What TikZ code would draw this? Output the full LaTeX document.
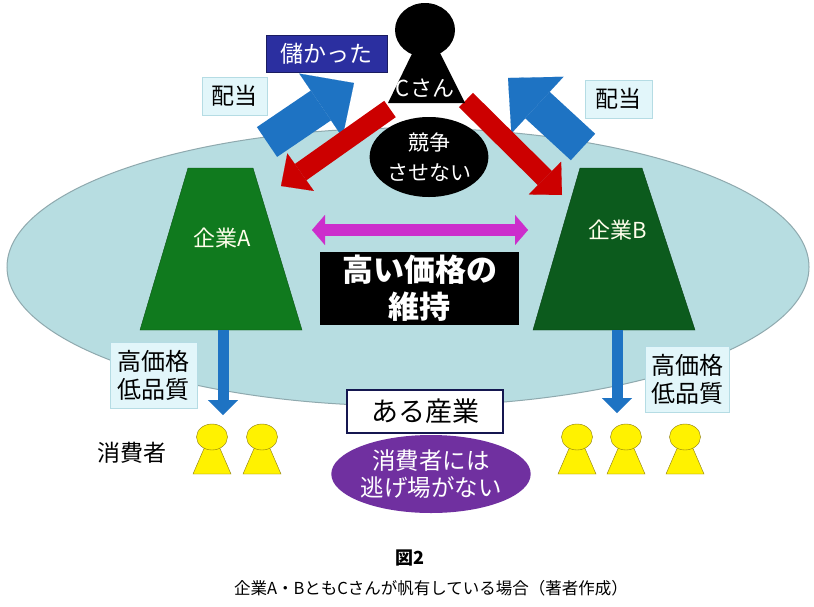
\documentclass[tikz,border=0pt]{standalone}
\usepackage{fontspec}
\setmainfont{Noto Sans CJK JP}
\usetikzlibrary{shapes.geometric,arrows.meta}
\definecolor{sea}{HTML}{B7DDE1}
\definecolor{seaedge}{HTML}{8FA9AE}
\definecolor{greenA}{HTML}{107A1E}
\definecolor{greenB}{HTML}{0C5B1D}
\definecolor{navy}{HTML}{2B2FA0}
\definecolor{pale}{HTML}{E2F6FA}
\definecolor{paleedge}{HTML}{B5DCE4}
\definecolor{divblue}{HTML}{1E73C3}
\definecolor{fightred}{HTML}{CC0000}
\definecolor{mag}{HTML}{CC2ECC}
\definecolor{grape}{HTML}{7030A0}
\definecolor{figedge}{HTML}{8A7A10}

\begin{document}
\begin{tikzpicture}[x=1pt,y=-1pt,
	box/.style={draw=paleedge, fill=pale, align=center, inner sep=0pt},
	firm/.style={text=white!92!yellow, font=\fontsize{22}{26}\selectfont},
	blk/.style={fill=black, text=white, align=center, inner sep=0pt},
	head/.style={ellipse, draw=figedge, fill=yellow, minimum width=31pt, minimum height=26pt, inner sep=0pt},
	body/.style={draw=figedge, fill=yellow},
	dividend/.style={line width=36pt, draw=divblue, -{Triangle[width=77pt,length=40pt,line width=0.1pt]}},
	order/.style={line width=20pt, draw=fightred, -{Triangle[width=46pt,length=24pt,line width=0.1pt]}},
	sell/.style={line width=11pt, draw=divblue, -{Triangle[width=30pt,length=15pt,line width=0.1pt]}}]
	\useasboundingbox (0,0) rectangle (814,606);
	\fill[white] (0,0) rectangle (814,606);
	% industry
	\node (ind) at (408,267) [ellipse, draw=seaedge, fill=sea, line width=1pt, minimum width=802pt, minimum height=278pt] {};
	\draw[fill=greenA, draw=greenA!70!black] (188,168) -- (253,168) -- (302,330) -- (140,330) -- cycle;
	\draw[fill=greenB, draw=greenB!70!black] (580,168) -- (642,168) -- (695,330) -- (533,330) -- cycle;
	\node (A) at (222,238) [firm] {企業A};
	\node (B) at (618,230) [firm] {企業B};
	\coordinate (ml) at (312,230);
	\coordinate (mr) at (528,230);
	\draw[line width=12pt, draw=mag, {Triangle[width=30pt,length=13pt,line width=0.1pt]}-{Triangle[width=30pt,length=13pt,line width=0.1pt]}] (ml) -- (mr);
	\node (keep) at (419.5,288.5) [blk, minimum width=199pt, minimum height=73pt, font=\bfseries\fontsize{31}{37}\selectfont] {高い価格の\\維持};
	% owner and flows
	\coordinate (bl1) at (267,142);
	\coordinate (bl2) at (354,83);
	\coordinate (br1) at (583,147);
	\coordinate (br2) at (508,78);
	\coordinate (rl1) at (390,109);
	\coordinate (rl2) at (281,186);
	\coordinate (rr1) at (466,100);
	\coordinate (rr2) at (562,195);
	\draw[dividend] (bl1) -- (bl2);
	\draw[dividend] (br1) -- (br2);
	\draw[order] (rl1) -- (rl2);
	\draw[order] (rr1) -- (rr2);
	\fill[black] (426,25) -- (465,103) -- (388,103) -- cycle;
	\node (Chead) at (425,30) [ellipse, fill=black, minimum width=60pt, minimum height=54pt] {};
	\node (C) at (425,88) [text=white, font=\fontsize{22}{24}\selectfont] {Cさん};
	\node (nc) at (429,157) [ellipse, blk, minimum width=102pt, minimum height=80pt, font=\fontsize{21}{30}\selectfont] {競争\\させない};
	\node (gain) at (326.5,53.5) [fill=navy, draw=navy!60!black, text=white, minimum width=121pt, minimum height=37pt, inner sep=0pt, font=\fontsize{23}{26}\selectfont] {儲かった};
	\node (dl) at (234.5,96) [box, minimum width=65pt, minimum height=38pt, font=\fontsize{23}{25}\selectfont] {配当};
	\node (dr) at (618.5,99) [box, minimum width=67pt, minimum height=38pt, font=\fontsize{23}{25}\selectfont] {配当};
	% consumers
	\coordinate (sa1) at (223,330);
	\coordinate (sa2) at (223,415);
	\coordinate (sb1) at (617,330);
	\coordinate (sb2) at (617,413);
	\draw[sell] (sa1) -- (sa2);
	\draw[sell] (sb1) -- (sb2);
	\node (pa) at (153.5,375) [box, minimum width=87pt, minimum height=66pt, font=\fontsize{24}{28}\selectfont] {高価格\\低品質};
	\node (pb) at (687,379) [box, minimum width=84pt, minimum height=66pt, font=\fontsize{24}{28}\selectfont] {高価格\\低品質};
	\node (trap) at (431,474) [ellipse, fill=grape, text=white, minimum width=194pt, minimum height=78pt, inner sep=0pt, align=center, font=\fontsize{23.5}{27}\selectfont] {消費者には\\逃げ場がない};
	\node (name) at (425,411.5) [draw=navy!50!black, line width=1.2pt, fill=white, minimum width=156pt, minimum height=43pt, inner sep=0pt, font=\fontsize{27}{30}\selectfont] {ある産業};
	\node (who) at (132,453) [font=\fontsize{23}{26}\selectfont] {消費者};
	\draw[body] (193,474) -- (212,430) -- (231,474) -- cycle;
	\node (u1) at (212,437) [head] {};
	\draw[body] (243,474) -- (262,430) -- (281,474) -- cycle;
	\node (u2) at (262,437) [head] {};
	\draw[body] (558,474) -- (577,430) -- (596,474) -- cycle;
	\node (u3) at (577,437) [head] {};
	\draw[body] (607,474) -- (626,430) -- (645,474) -- cycle;
	\node (u4) at (626,437) [head] {};
	\draw[body] (666,474) -- (685,430) -- (704,474) -- cycle;
	\node (u5) at (685,437) [head] {};
	% caption
	\node (fig) at (410,558) [font=\bfseries\fontsize{18}{20}\selectfont] {図2};
	\node (cap) at (431,588) [font=\fontsize{16.5}{18}\selectfont] {企業A・BともCさんが帆有している場合（著者作成）};
\end{tikzpicture}
\end{document}
